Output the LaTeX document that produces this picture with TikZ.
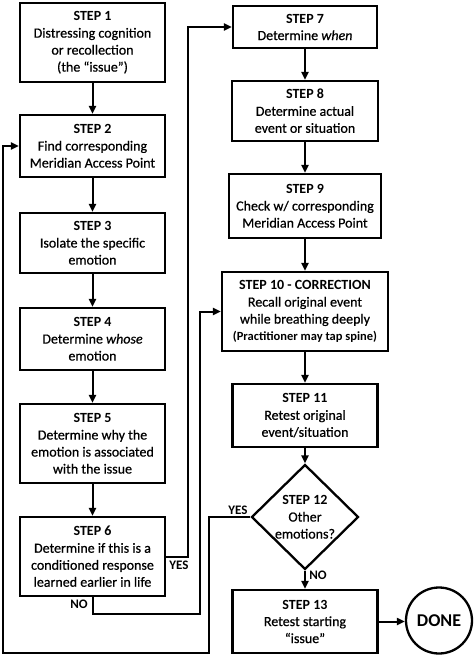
\documentclass[tikz,border=0pt]{standalone}
\usepackage{fontspec}
\setmainfont{Carlito}[UprightFeatures={FakeBold=0.6},ItalicFeatures={FakeBold=0.6}]
\usetikzlibrary{shapes.geometric,arrows.meta}
\begin{document}
\begin{tikzpicture}[x=1pt,y=-1pt,
  box/.style={draw,line width=2.3pt,align=center,inner sep=0pt,
    font=\fontsize{14}{17}\selectfont},
  dia/.style={draw,diamond,line width=2.3pt,align=center,inner sep=0pt,
    font=\fontsize{14}{17}\selectfont},
  ln/.style={line width=2pt},
  arr/.style={ln,-{Triangle[length=8pt,width=7pt]}},
  lbl/.style={font=\bfseries\fontsize{13}{15}\selectfont,inner sep=0pt}]
\useasboundingbox (0,0) rectangle (474,656);
% left column
\node[box,minimum width=145pt,minimum height=79pt] (s1) at (92.5,42.5)
  {\textbf{STEP 1}\\Distressing cognition\\or recollection\\(the “issue”)};
\node[box,minimum width=145pt,minimum height=62pt] (s2) at (92.5,146)
  {\textbf{STEP 2}\\Find corresponding\\Meridian Access Point};
\node[box,minimum width=145pt,minimum height=60pt] (s3) at (92.5,243)
  {\textbf{STEP 3}\\Isolate the specific\\emotion};
\node[box,minimum width=145pt,minimum height=62pt] (s4) at (92.5,339)
  {\textbf{STEP 4}\\Determine \textit{whose}\\emotion};
\node[box,minimum width=145pt,minimum height=79pt] (s5) at (92.5,443.5)
  {\textbf{STEP 5}\\Determine why the\\emotion is associated\\with the issue};
\node[box,minimum width=145pt,minimum height=79pt] (s6) at (92.5,556.5)
  {\textbf{STEP 6}\\Determine if this is a\\conditioned response\\learned earlier in life};
% right column
\node[box,minimum width=144pt,minimum height=42pt] (s7) at (305,27)
  {\textbf{STEP 7}\\Determine \textit{when}};
\node[box,minimum width=146pt,minimum height=60pt] (s8) at (305,111)
  {\textbf{STEP 8}\\Determine actual\\event or situation};
\node[box,minimum width=152pt,minimum height=64pt] (s9) at (305,206)
  {\textbf{STEP 9}\\Check w/ corresponding\\Meridian Access Point};
\node[box,minimum width=166pt,minimum height=79pt] (s10) at (305,311.5)
  {\textbf{STEP 10 - CORRECTION}\\Recall original event\\while breathing deeply\\{\bfseries\fontsize{12.5}{15}\selectfont(Practitioner may tap spine)}};
\node[box,minimum width=145pt,minimum height=63pt] (s11) at (305,415.5)
  {\textbf{STEP 11}\\Retest original\\event/situation};
\node[dia,minimum width=107pt,minimum height=105pt] (s12) at (305,517)
  {\textbf{STEP 12}\\Other\\emotions?};
\node[box,minimum width=145pt,minimum height=63pt] (s13) at (305,621.5)
  {\textbf{STEP 13}\\Retest starting\\“issue”};
\node[draw,circle,line width=2.3pt,minimum size=66pt,inner sep=0pt,
  font=\bfseries\fontsize{18}{20}\selectfont] (done) at (439,620.5) {DONE};
% connectors
\draw[arr] (s1) -- (s2);
\draw[arr] (s2) -- (s3);
\draw[arr] (s3) -- (s4);
\draw[arr] (s4) -- (s5);
\draw[arr] (s5) -- (s6);
\draw[arr] (s7) -- (s8);
\draw[arr] (s8) -- (s9);
\draw[arr] (s9) -- (s10);
\draw[arr] (s10) -- (s11);
\draw[arr] (s11) -- (s12);
\draw[arr] (s12) -- (s13);
\draw[arr] (s13.east) -- (s13.east -| done.west);
\draw[arr] (s6.east) -- ++(22,0) |- (s7.west);
\draw[arr] (s6.south) -- ++(0,17) -- ++(107.5,0) |- (s10.west);
\draw[arr] (s12.west) -- ++(-41,0) -- ++(0,136) -- ++(-206,0) |- (s2.west);
% labels
\node[lbl] (ly6) at (179,565) {YES};
\node[lbl] (ln6) at (79,604) {NO};
\node[lbl] (ly12) at (238,510) {YES};
\node[lbl] (ln12) at (318,575) {NO};
\end{tikzpicture}
\end{document}
